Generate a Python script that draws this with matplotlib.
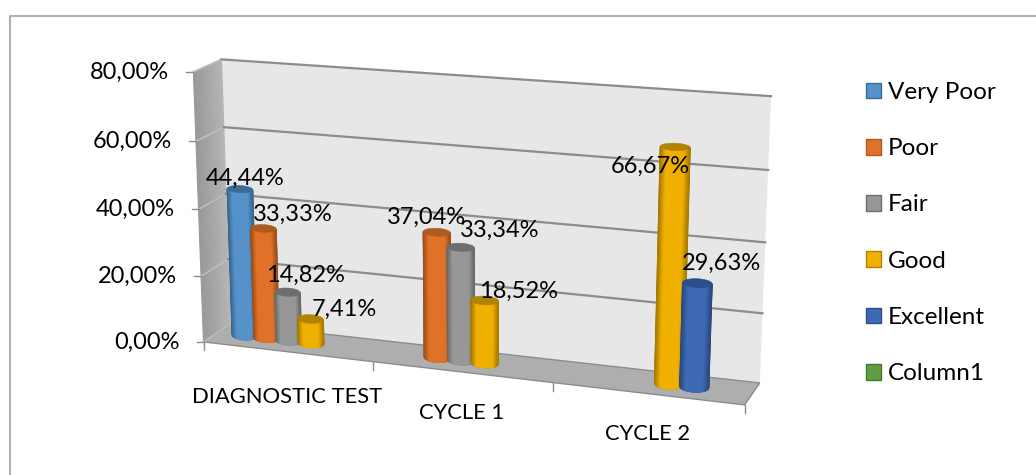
""" 3D style cylinder chart of the test results per cycle, drawn on a flat axes. """
import numpy as np
import matplotlib
matplotlib.use('Agg')
import matplotlib.pyplot as plt
from matplotlib.colors import LinearSegmentedColormap
from matplotlib.patches import Patch

plt.rcParams['font.family'] = ['Lato', 'DejaVu Sans']

categories = ["DIAGNOSTIC TEST", "CYCLE 1", "CYCLE 2"]
series_names = ["Very Poor", "Poor", "Fair", "Good", "Excellent", "Column1"]
very_poor = [44.44, 0, 0]
poor = [33.33, 37.04, 0]
fair = [14.82, 33.34, 0]
good = [7.41, 18.52, 66.67]
excellent = [0, 0, 29.63]
column1 = [0, 0, 0]
y_ticks = [0, 20, 40, 60, 80]

series_values = [very_poor, poor, fair, good, excellent, column1]
colors = ['#5492c9', '#e07128', '#979797', '#f0b000', '#3d69b5', '#5f9e40']
cap_colors = ['#3b6c99', '#b05a20', '#6e6e6e', '#b08400', '#2b4f8c', '#44762c']

# label shift from the top of its bar, in pixels
label_shift = {(0, 0): (5, -11), (1, 0): (29, -14), (2, 0): (18, -17), (3, 0): (34, -10),
               (1, 1): (-10, -15), (2, 1): (39, -17), (3, 1): (34, -9),
               (3, 2): (-25, 19), (4, 2): (24, -20)}
# category names sit below the front edge by this many pixels
name_drop = [45, 41, 40]

# cube corners (category, value, depth) and where they land on the canvas
cube_pts = np.array([(0, 0, 0), (1, 0, 0), (2, 0, 0), (3, 0, 0), (0, 80, 0),
                     (0, 0, 1), (3, 0, 1), (0, 80, 1), (3, 80, 1),
                     (0, 40, 1), (3, 40, 1)], dtype=float)
canvas_pts = np.array([(204, 342), (373, 362), (553, 383), (745, 404), (193, 72),
                       (230, 323), (760, 383), (222, 59), (771, 96),
                       (226, 194), (765, 243)], dtype=float)


def fit_camera(world, image):
    """ Least squares projective camera from point pairs. """
    rows = []
    for (x, y, z), (u, v) in zip(world, image):
        rows.append([x, y, z, 1, 0, 0, 0, 0, -u*x, -u*y, -u*z, -u])
        rows.append([0, 0, 0, 0, x, y, z, 1, -v*x, -v*y, -v*z, -v])
    return np.linalg.svd(np.array(rows))[2][-1].reshape(3, 4)


CAMERA = fit_camera(cube_pts / [1, 80, 1], canvas_pts)


def project(x, y, z):
    """ Category, value and depth to canvas pixels. """
    x, y, z = np.broadcast_arrays(x, np.asarray(y) / 80, z)
    hom = CAMERA @ np.stack([x, y, z, np.ones_like(x, dtype=float)])
    return hom[0] / hom[2], hom[1] / hom[2]


def face(ax, pts, **kwargs):
    """ Fill a polygon given in chart coordinates. """
    xs, ys = project(*np.array(pts, dtype=float).T)
    ax.fill(xs, ys, **kwargs)


def ellipse(x, value, angles):
    """ Outline of a bar end on the canvas, tilted a little with the floor. """
    half_x, half_z = 0.076, 0.23
    cx, cy = project(x, value, 0.5)
    rx = project(x + half_x, value, 0.5)[0] - cx
    ry = project(x, value, 0.5 - half_z)[1] - cy
    slope = 0.5*(project(x + half_x, value, 0.5)[1] - cy) / rx
    dx = rx*np.cos(angles)
    return cx + dx, cy + slope*dx + ry*np.sin(angles)


def cylinder(ax, x, value, color, cap):
    """ Draw one bar as a shaded mesh across its front with a cap on top. """
    angles = np.arccos(np.linspace(-1, 1, 25))
    bx, by = ellipse(x, 0, angles)
    tx, ty = ellipse(x, value, angles)
    # dark silhouette under the mesh keeps the bar edges smooth
    dark = tuple(np.array(matplotlib.colors.to_rgb(color))*0.68)
    ax.fill(np.r_[bx, tx[::-1]], np.r_[by, ty[::-1]], fc=dark, ec=dark, lw=0.6, zorder=5)
    strength = np.clip((np.abs(np.cos(angles)) - 0.6) / 0.4, 0, 1)
    ramp = LinearSegmentedColormap.from_list('bar', [color, dark])
    ax.pcolormesh(np.stack([bx, tx]), np.stack([by, ty]), np.stack([strength, strength]),
                  cmap=ramp, vmin=0, vmax=1, shading='gouraud', zorder=5)
    ax.fill(*ellipse(x, value, np.linspace(0, 2*np.pi, 49)), color=cap, lw=0.4, zorder=5)


fig = plt.figure(figsize=(10.36, 4.75), dpi=100)
ax = fig.add_axes([0, 0, 1, 1])

# chart frame
ax.plot([10, 10, 1036], [475, 16, 16], color='#b0b0b0', lw=1.5)

# walls and floor
face(ax, [(0, 0, 1), (3, 0, 1), (3, 80, 1), (0, 80, 1)], color='#e7e7e7', lw=0)
for z0, z1 in zip(np.linspace(0, 1, 20)[:-1], np.linspace(0, 1, 20)[1:]):
    gray = 0.60 + 0.11*z0
    face(ax, [(0, 0, z0), (0, 0, z1), (0, 80, z1), (0, 80, z0)], fc=(gray, gray, gray),
         ec=(gray, gray, gray), lw=0.8)
face(ax, [(0, 0, 0), (3, 0, 0), (3, 0, 1), (0, 0, 1)], fc='#aeaeae', ec='#8c8c8c', lw=1)

# gridlines run along the side wall and across the back wall
for tick in y_ticks:
    xs, ys = project([0, 0, 3], [tick, tick, tick], [0, 1, 1])
    ax.plot(xs[:2], ys[:2], color='#bdbdbd', lw=1.2)
    if tick > 0:
        ax.plot(xs[1:], ys[1:], color='#8c8c8c', lw=1.6)
    tx, ty = project(0, tick, 0)
    ax.plot([tx - 7, tx], [ty, ty], color='#8c8c8c', lw=1)
    ax.text(tx - 24, ty, f"{tick:.2f}%".replace('.', ','), ha='right', va='center', fontsize=17)

# category ticks and names on the front edge
for i in range(len(categories) + 1):
    tx, ty = project(i, 0, 0)
    ax.plot([tx, tx], [ty, ty + 8], color='#8c8c8c', lw=1)
for i, name in enumerate(categories):
    tx, ty = project(i + 0.5, 0, 0)
    ax.text(tx, ty + name_drop[i], name, ha='center', va='center', fontsize=15.8)

# bars, left to right so each one overlaps the previous
slot = 0.133
for s, values in enumerate(series_values):
    for c, value in enumerate(values):
        if value == 0:
            continue
        x = c + 0.5 + (s - 2.5)*slot
        cylinder(ax, x, value, colors[s], cap_colors[s])
        tx, ty = project(x, value, 0.5)
        dx, dy = label_shift[(s, c)]
        ax.text(tx + dx, ty + dy, f"{value:.2f}%".replace('.', ','), ha='center', va='center',
                fontsize=17, zorder=6)

handles = [Patch(fc=col, ec=cap, lw=1) for col, cap in zip(colors, cap_colors)]
ax.legend(handles, series_names, loc='upper left', bbox_to_anchor=(866/1036, 1 - 82/475),
          frameon=False, fontsize=17.5, handlelength=0.62, handleheight=0.62,
          handletextpad=0.29, labelspacing=1.45, borderpad=0, borderaxespad=0)

ax.set_xlim(0, 1036)
ax.set_ylim(475, 0)
ax.axis('off')

fig.savefig('out.png', dpi=100)
